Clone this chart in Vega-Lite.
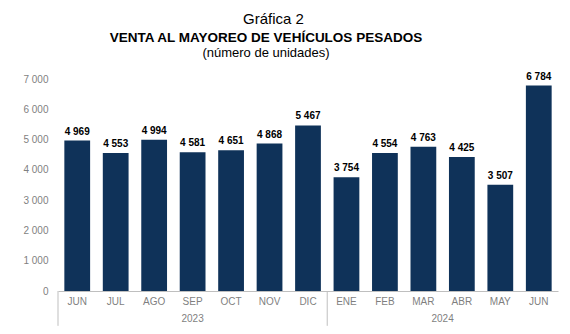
{
  "$schema": "https://vega.github.io/schema/vega-lite/v6.json",
  "autosize": "pad",
  "padding": {"left": 22, "top": 12, "right": 10, "bottom": 6},
  "background": "white",
  "config": {
    "font": "Liberation Sans",
    "view": {"stroke": null},
    "locale": {"number": {"decimal": ",", "thousands": " ", "grouping": [3], "currency": ["$", ""]}},
    "concat": {"spacing": 0},
    "axisY": {"values": [0, 1000, 2000, 3000, 4000, 5000, 6000, 7000], "labelOverlap": false, "tickCount": 8, "format": ",d", "grid": false, "domain": false, "ticks": false, "labelFont": "Liberation Sans", "labelFontSize": 10, "labelColor": "#7f7f7f", "labelPadding": 10, "title": null}
  },
  "title": {"text": "Gráfica 2", "font": "Liberation Sans", "fontSize": 15, "fontWeight": "normal", "color": "#000000", "anchor": "middle", "dx": -17, "offset": 4},
  "vconcat": [
    {
      "width": 500,
      "height": 212,
      "title": {"text": "VENTA AL MAYOREO DE VEHÍCULOS PESADOS", "subtitle": "(número de unidades)", "font": "Liberation Sans", "fontSize": 13.5, "fontWeight": "bold", "color": "#000000", "subtitleFont": "Liberation Sans", "subtitleFontSize": 13, "subtitleColor": "#000000", "subtitlePadding": 2, "anchor": "middle", "dx": -42, "offset": 12},
      "data": {"values": [
        {"key": "2023-JUN", "mes": "JUN", "anio": "2023", "valor": 4969},
        {"key": "2023-JUL", "mes": "JUL", "anio": "2023", "valor": 4553},
        {"key": "2023-AGO", "mes": "AGO", "anio": "2023", "valor": 4994},
        {"key": "2023-SEP", "mes": "SEP", "anio": "2023", "valor": 4581},
        {"key": "2023-OCT", "mes": "OCT", "anio": "2023", "valor": 4651},
        {"key": "2023-NOV", "mes": "NOV", "anio": "2023", "valor": 4868},
        {"key": "2023-DIC", "mes": "DIC", "anio": "2023", "valor": 5467},
        {"key": "2024-ENE", "mes": "ENE", "anio": "2024", "valor": 3754},
        {"key": "2024-FEB", "mes": "FEB", "anio": "2024", "valor": 4554},
        {"key": "2024-MAR", "mes": "MAR", "anio": "2024", "valor": 4763},
        {"key": "2024-ABR", "mes": "ABR", "anio": "2024", "valor": 4425},
        {"key": "2024-MAY", "mes": "MAY", "anio": "2024", "valor": 3507},
        {"key": "2024-JUN", "mes": "JUN", "anio": "2024", "valor": 6784}
      ]},
      "layer": [
        {
          "mark": {"type": "bar", "color": "#0f3259", "width": {"band": 0.67}},
          "encoding": {
            "x": {"field": "key", "type": "ordinal", "sort": null,
              "scale": {"paddingInner": 0, "paddingOuter": 0},
              "axis": {"title": null, "labelAngle": 0, "labelExpr": "slice(datum.value, 5)", "labelFont": "Liberation Sans", "labelFontSize": 10, "labelColor": "#7f7f7f", "labelPadding": 5, "ticks": false, "domainColor": "#bfbfbf", "domainWidth": 1}},
            "y": {"field": "valor", "type": "quantitative",
              "scale": {"domain": [0, 7000]},
              "axis": {"values": [0, 1000, 2000, 3000, 4000, 5000, 6000, 7000], "labelOverlap": false}}
          }
        },
        {
          "mark": {"type": "text", "baseline": "bottom", "dy": -4, "font": "Liberation Sans", "fontSize": 10, "fontWeight": "bold", "color": "#000000"},
          "encoding": {
            "x": {"field": "key", "type": "ordinal", "sort": null},
            "y": {"field": "valor", "type": "quantitative", "axis": {"values": [0, 1000, 2000, 3000, 4000, 5000, 6000, 7000], "labelOverlap": false}},
            "text": {"field": "valor", "type": "quantitative", "format": ",d"}
          }
        },
        {
          "data": {"values": [
            {"key": "2023-JUN", "y1": 0, "y2": -1150},
            {"key": "2024-ENE", "y1": 0, "y2": -1150}
          ]},
          "mark": {"type": "rule", "color": "#bfbfbf", "strokeWidth": 1, "clip": false},
          "encoding": {
            "x": {"field": "key", "type": "ordinal", "sort": null, "bandPosition": 0},
            "y": {"field": "y1", "type": "quantitative", "axis": {"values": [0, 1000, 2000, 3000, 4000, 5000, 6000, 7000], "labelOverlap": false}},
            "y2": {"field": "y2"}
          }
        },
        {
          "data": {"values": [
            {"key": "2023-SEP", "anio": "2023", "yv": -920}
          ]},
          "mark": {"type": "text", "baseline": "middle", "font": "Liberation Sans", "fontSize": 10, "color": "#7f7f7f", "clip": false},
          "encoding": {
            "x": {"field": "key", "type": "ordinal", "sort": null, "bandPosition": 0.5},
            "y": {"field": "yv", "type": "quantitative", "axis": {"values": [0, 1000, 2000, 3000, 4000, 5000, 6000, 7000], "labelOverlap": false}},
            "text": {"field": "anio"}
          }
        },
        {
          "data": {"values": [
            {"key": "2024-ABR", "anio": "2024", "yv": -920}
          ]},
          "mark": {"type": "text", "baseline": "middle", "font": "Liberation Sans", "fontSize": 10, "color": "#7f7f7f", "clip": false},
          "encoding": {
            "x": {"field": "key", "type": "ordinal", "sort": null, "bandPosition": 0},
            "y": {"field": "yv", "type": "quantitative", "axis": {"values": [0, 1000, 2000, 3000, 4000, 5000, 6000, 7000], "labelOverlap": false}},
            "text": {"field": "anio"}
          }
        }
      ]
    }
  ]
}
